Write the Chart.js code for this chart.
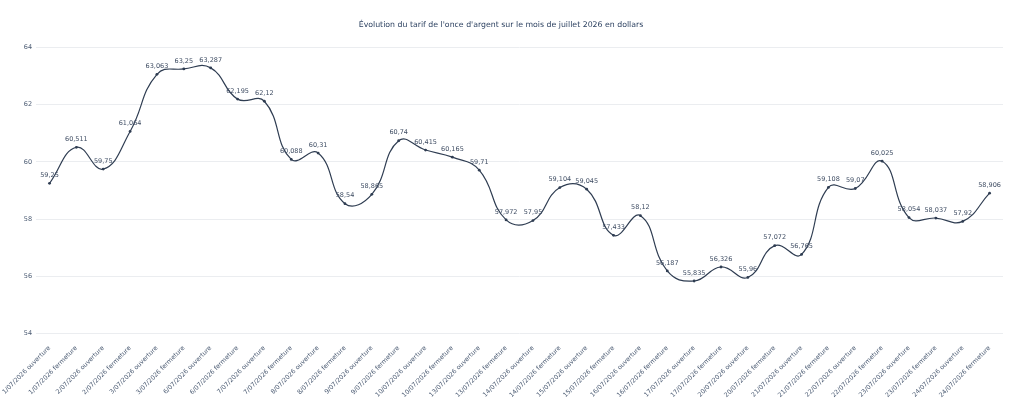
<!DOCTYPE html>
<html>
<head>
<meta charset="utf-8">
<script src="https://cdn.jsdelivr.net/npm/chart.js@4.4.1/dist/chart.umd.min.js"></script>
<style>
  html, body { margin: 0; padding: 0; background: #fff; }
  #wrap { width: 1024px; height: 403px; }
</style>
</head>
<body>
<div id="wrap"><canvas id="myChart"></canvas></div>
<script>
var titre = "Évolution du tarif de l'once d'argent sur le mois de juillet 2026 en dollars";

var jours = ['1', '2', '3', '6', '7', '8', '9', '10', '13', '14', '15', '16', '17', '20', '21', '22', '23', '24'];
var seances = ['ouverture', 'fermeture'];

var cours = [
  59.25, 60.511, 59.75, 61.064, 63.063, 63.25, 63.287, 62.195, 62.12, 60.088,
  60.31, 58.54, 58.865, 60.74, 60.415, 60.165, 59.71, 57.972, 57.95, 59.104,
  59.045, 57.433, 58.12, 56.187, 55.835, 56.326, 55.96, 57.072, 56.765, 59.108,
  59.07, 60.025, 58.054, 58.037, 57.92, 58.906
];

var yTicks = [54, 56, 58, 60, 62, 64];

var labels = [];
jours.forEach(function (j) {
  seances.forEach(function (s) {
    labels.push(j + '/07/2026 ' + s);
  });
});

function fmt(v) {
  return String(v).replace('.', ',');
}

// étiquettes de valeurs au-dessus des points + titre
var etiquettes = {
  id: 'etiquettes',
  afterDatasetsDraw: function (chart) {
    var ctx = chart.ctx;
    var meta = chart.getDatasetMeta(0);
    ctx.save();
    ctx.font = '6.5px "DejaVu Sans"';
    ctx.fillStyle = '#3f4d63';
    ctx.textAlign = 'center';
    ctx.textBaseline = 'middle';
    meta.data.forEach(function (pt, i) {
      ctx.fillText(fmt(cours[i]), pt.x, pt.y - 8);
    });
    ctx.font = '7.8px "DejaVu Sans"';
    ctx.fillStyle = '#2a3f5f';
    ctx.fillText(titre, 501, 25);
    ctx.restore();
  }
};

window.onload = function () {
  var ctx = document.getElementById('myChart').getContext('2d');
  new Chart(ctx, {
    type: 'line',
    data: {
      labels: labels,
      datasets: [{
        data: cours,
        borderColor: '#2f3d52',
        backgroundColor: '#2f3d52',
        borderWidth: 1.2,
        pointRadius: 1.4,
        pointBorderWidth: 0,
        tension: 0.45,
        fill: false
      }]
    },
    options: {
      responsive: true,
      maintainAspectRatio: false,
      animation: false,
      layout: { padding: { left: 0, right: 21, top: 47.5, bottom: 0 } },
      plugins: {
        legend: { display: false },
        tooltip: { enabled: false }
      },
      scales: {
        x: {
          offset: true,
          grid: { display: false },
          border: { display: false },
          ticks: {
            autoSkip: false,
            maxRotation: 45,
            minRotation: 45,
            padding: 3,
            color: '#4a5a72',
            font: { family: 'DejaVu Sans', size: 6.3 }
          },
          afterFit: function (axis) { axis.height = 69.5; }
        },
        y: {
          min: 54,
          max: 64,
          afterBuildTicks: function (axis) {
            axis.ticks = yTicks.map(function (v) { return { value: v }; });
          },
          grid: { color: '#ebedf0', lineWidth: 1, drawTicks: false },
          border: { display: false },
          ticks: {
            padding: 4,
            color: '#4a5a72',
            font: { family: 'DejaVu Sans', size: 6.5 }
          },
          afterFit: function (axis) { axis.width = 35; }
        }
      }
    },
    plugins: [etiquettes]
  });
};
</script>
</body>
</html>
